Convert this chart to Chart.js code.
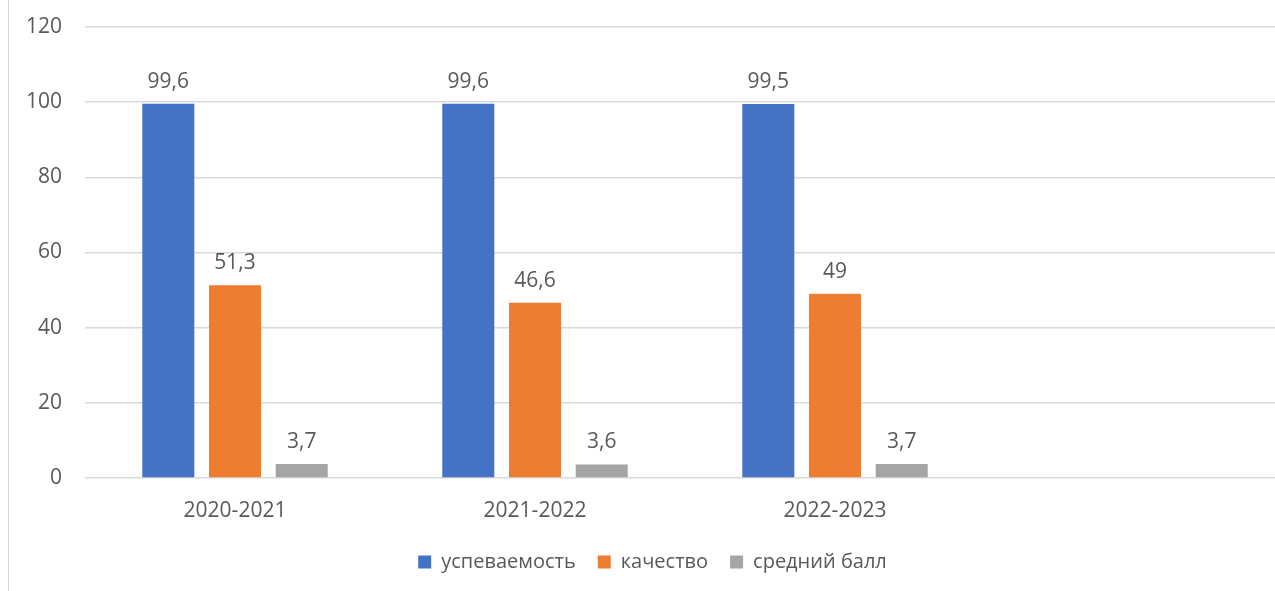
<!DOCTYPE html>
<html>
<head>
<meta charset="utf-8">
<script src="https://cdn.jsdelivr.net/npm/chart.js@4"></script>
<style>
  html, body { margin: 0; padding: 0; background: #fff; overflow: hidden; }
  #wrap { position: relative; width: 1275px; height: 591px; overflow: hidden; }
  #frame { position: absolute; left: 8px; top: 0; height: 591px; border-left: 1.5px solid #d9d9d9; }
  #chart { position: absolute; left: 0; top: 0; }
</style>
</head>
<body>
<div id="wrap">
  <div id="frame"></div>
  <canvas id="chart" width="1295" height="591"></canvas>
</div>
<script>
// years (4th slot is empty in the original)
const years = ['2020-2021', '2021-2022', '2022-2023', ''];
const uspevaemost = [99.6, 99.6, 99.5, null];
const kachestvo = [51.3, 46.6, 49, null];
const sredniyBall = [3.7, 3.6, 3.7, null];
const yTicks = [0, 20, 40, 60, 80, 100, 120];

const textColor = '#595959';
const font = { family: '"Open Sans", sans-serif', size: 21 };

// value labels above the bars, decimal comma
const barLabels = {
  id: 'barLabels',
  afterDatasetsDraw(chart) {
    const ctx = chart.ctx;
    ctx.save();
    ctx.font = '21px "Open Sans", sans-serif';
    ctx.fillStyle = textColor;
    ctx.textAlign = 'center';
    ctx.textBaseline = 'alphabetic';
    chart.data.datasets.forEach((ds, i) => {
      chart.getDatasetMeta(i).data.forEach((bar, j) => {
        const v = ds.data[j];
        if (v == null) return;
        ctx.fillText(String(v).replace('.', ','), bar.x, bar.y - 16);
      });
    });
    ctx.restore();
  }
};

new Chart(document.getElementById('chart'), {
  type: 'bar',
  data: {
    labels: years,
    datasets: [
      { label: 'успеваемость', data: uspevaemost, backgroundColor: '#4472C4' },
      { label: 'качество', data: kachestvo, backgroundColor: '#ED7D31' },
      { label: 'средний балл', data: sredniyBall, backgroundColor: '#A5A5A5' }
    ]
  },
  options: {
    responsive: false,
    animation: false,
    layout: { padding: { top: 27, left: 20, right: 10, bottom: 9 } },
    datasets: { bar: { categoryPercentage: 0.667, barPercentage: 0.78 } },
    scales: {
      x: {
        grid: { display: false },
        border: { display: false },
        ticks: { color: textColor, font: font, padding: 12 },
        afterFit(scale) { scale.height = 52; }
      },
      y: {
        min: 0,
        max: 120,
        afterBuildTicks(scale) { scale.ticks = yTicks.map(v => ({ value: v })); },
        // invisible tick marks give the label gap without extra top padding
        grid: { color: '#d9d9d9', lineWidth: 1.5, drawTicks: true, tickLength: 20, tickColor: 'rgba(0,0,0,0)' },
        border: { display: false },
        ticks: { color: textColor, font: font, padding: 3 },
        afterFit(scale) { scale.width = 65; }
      }
    },
    plugins: {
      legend: {
        position: 'bottom',
        labels: {
          color: textColor,
          font: { family: '"Open Sans", sans-serif', size: 20 },
          boxWidth: 13, boxHeight: 13, padding: 22
        }
      },
      tooltip: { enabled: false }
    }
  },
  plugins: [barLabels]
});
</script>
</body>
</html>
